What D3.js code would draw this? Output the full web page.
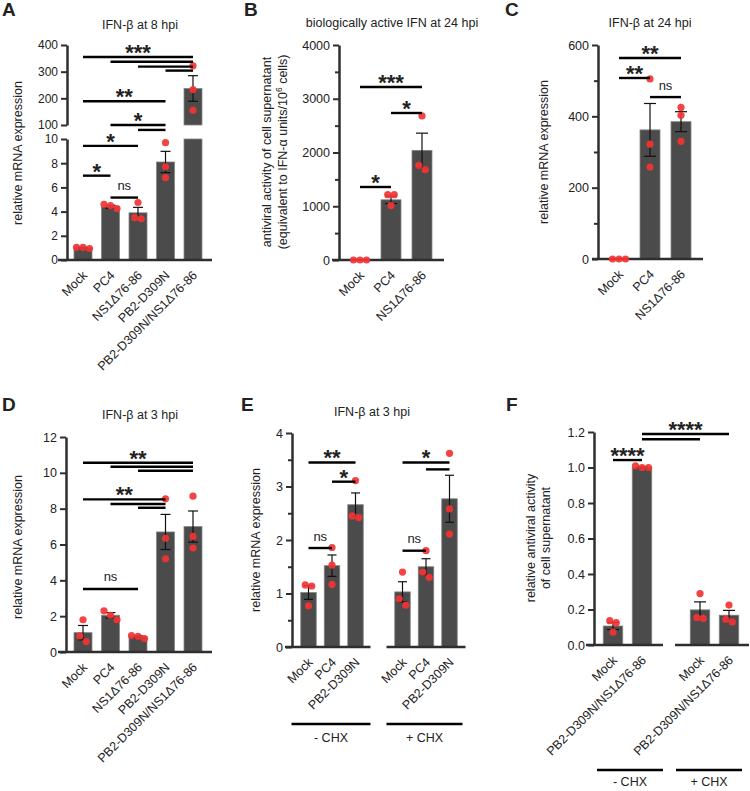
<!DOCTYPE html>
<html>
<head>
<meta charset="utf-8">
<script src="https://cdn.jsdelivr.net/npm/d3@7"></script>
<style>
  body { margin: 0; background: #fff; }
  text { font-family: "Liberation Sans", Arial, Helvetica, sans-serif; fill: #222; }
</style>
</head>
<body>
<svg id="fig" width="750" height="791"></svg>
<script>
// ---------- data ----------
// A: IFN-β at 8 hpi (broken axis)
const catsA = ["Mock", "PC4", "NS1Δ76-86", "PB2-D309N", "PB2-D309N/NS1Δ76-86"];
const meanA = [1.0, 4.4, 3.9, 8.1, 237];
const semA  = [0.05, 0.12, 0.45, 0.88, 48];
const dotsA = [[1.05, 1.05, 0.95], [4.6, 4.5, 4.25], [4.75, 3.4, 3.5], [9.7, 7.7, 6.8], [322, 233, 155]];
const sigA  = [
  { pairs: [[0, 4], [1, 4], [2, 4], [3, 4]], label: "***" },
  { pairs: [[0, 3]], label: "**" },
  { pairs: [[1, 3], [2, 3]], label: "*" },
  { pairs: [[0, 2]], label: "*" },
  { pairs: [[0, 1]], label: "*" },
  { pairs: [[1, 2]], label: "ns" }
];

// B: biologically active IFN at 24 hpi
const catsB = ["Mock", "PC4", "NS1Δ76-86"];
const meanB = [0, 1120, 2040];
const semB  = [0, 70, 320];
const dotsB = [[0, 0, 0], [1215, 1215, 1010], [2680, 1760, 1680]];
const sigB  = [
  { pairs: [[0, 2]], label: "***" },
  { pairs: [[1, 2]], label: "*" },
  { pairs: [[0, 1]], label: "*" }
];

// C: IFN-β at 24 hpi
const catsC = ["Mock", "PC4", "NS1Δ76-86"];
const meanC = [0, 362, 385];
const semC  = [0, 74, 28];
const dotsC = [[0, 0, 0], [505, 322, 258], [425, 403, 330]];
const sigC  = [
  { pairs: [[0, 2]], label: "**" },
  { pairs: [[0, 1]], label: "**" },
  { pairs: [[1, 2]], label: "ns" }
];

// D: IFN-β at 3 hpi
const catsD = ["Mock", "PC4", "NS1Δ76-86", "PB2-D309N", "PB2-D309N/NS1Δ76-86"];
const meanD = [1.08, 2.05, 0.85, 6.7, 7.0];
const semD  = [0.4, 0.15, 0.05, 0.98, 0.87];
const dotsD = [[1.8, 0.9, 0.58], [2.3, 2.05, 1.8], [0.92, 0.88, 0.75], [8.55, 6.35, 5.2], [8.7, 6.45, 5.8]];
const sigD  = [
  { pairs: [[0, 4], [1, 4], [2, 4]], label: "**" },
  { pairs: [[0, 3], [1, 3], [2, 3]], label: "**" },
  { pairs: [[0, 2]], label: "ns" }
];

// E: IFN-β at 3 hpi, with / without CHX
const catsE = ["Mock", "PC4", "PB2-D309N"];
const condE = ["- CHX", "+ CHX"];
const meanE = [1.02, 1.52, 2.66, 1.03, 1.50, 2.77];
const semE  = [0.13, 0.20, 0.22, 0.19, 0.15, 0.44];
const dotsE = [[1.16, 1.14, 0.77], [1.86, 1.53, 1.17], [3.11, 2.45, 2.42],
               [1.4, 0.9, 0.78], [1.8, 1.4, 1.3], [3.62, 2.58, 2.11]];
const sigE  = [
  { pairs: [[0, 2]], label: "**" },
  { pairs: [[1, 2]], label: "*" },
  { pairs: [[0, 1]], label: "ns" },
  { pairs: [[3, 5], [4, 5]], label: "*" },
  { pairs: [[3, 4]], label: "ns" }
];

// F: relative antiviral activity, with / without CHX
const catsF = ["Mock", "PB2-D309N/NS1Δ76-86"];
const condF = ["- CHX", "+ CHX"];
const meanF = [0.107, 1.0, 0.198, 0.168];
const semF  = [0.02, 0.003, 0.045, 0.027];
const dotsF = [[0.137, 0.126, 0.072], [1.01, 1.0, 1.0], [0.29, 0.155, 0.15], [0.225, 0.145, 0.13]];
const sigF  = [
  { pairs: [[1, 3], [1, 2]], label: "****" },
  { pairs: [[0, 1]], label: "****" }
];

// ---------- drawing ----------
const svg = d3.select("#fig");
const INK = "#2e2e2e", BAR = "#4b4b4b", DOT = "#f23333";

// spread overlapping dots sideways, roughly like a scatter-dot column
function jitter(py, d = 6.5, gap = 7.5) {
  const order = py.map((p, i) => ({ i, p })).sort((a, b) => a.p - b.p);
  const off = py.map(() => 0);
  let cl = [order[0]];
  const flush = () => cl.forEach((o, k) => off[o.i] = (k - (cl.length - 1) / 2) * d);
  for (let k = 1; k < order.length; k++) {
    if (order[k].p - order[k - 1].p < gap) cl.push(order[k]);
    else { flush(); cl = [order[k]]; }
  }
  flush();
  return off;
}

function panel(cfg) {
  const g = svg.append("g");
  const x = cfg.x;
  const segs = cfg.segs;
  const segOf = v => segs.find(s => v <= s.y.domain()[1]) || segs[segs.length - 1];
  const py = v => segOf(v).y(v);
  const base = segs[0].y(0);
  const bw = cfg.barWidth;

  // panel letter + title
  g.append("text").attr("x", cfg.letter[0]).attr("y", cfg.letter[1])
    .attr("font-size", 19).attr("font-weight", "bold").attr("fill", "#000").text(cfg.name);
  if (cfg.title) {
    g.append("text").attr("x", cfg.title[0]).attr("y", cfg.title[1])
      .attr("text-anchor", "middle").attr("font-size", 12.5).text(cfg.title[2]);
  }

  // y-axis title (one or two lines)
  cfg.ylab.forEach(l => {
    const t = g.append("text")
      .attr("transform", `translate(${l.x},${l.y}) rotate(-90)`)
      .attr("text-anchor", "middle").attr("font-size", 12.5);
    l.parts.forEach(p => {
      const ts = t.append("tspan").text(p.t);
      if (p.sup) ts.attr("baseline-shift", "super").attr("font-size", 8.5);
    });
  });

  // bars (clipped to each axis segment)
  cfg.items.forEach(it => {
    segs.forEach(s => {
      const [lo, hi] = s.y.domain();
      if (it.mean <= lo) return;
      const top = Math.min(it.mean, hi);
      g.append("rect")
        .attr("x", x(it.key) - bw / 2).attr("width", bw)
        .attr("y", s.y(top)).attr("height", s.y(lo) - s.y(top))
        .attr("fill", BAR).attr("stroke", "#858585").attr("stroke-width", 0.8);
    });
  });

  // axes
  segs.forEach(s => {
    const ax = g.append("g").attr("transform", `translate(${cfg.axisX},0)`)
      .call(d3.axisLeft(s.y).tickValues(s.ticks).tickSize(6).tickSizeOuter(0)
        .tickPadding(3).tickFormat(s.fmt || d3.format("d")));
    ax.select(".domain").attr("stroke", INK).attr("stroke-width", 2.5);
    ax.selectAll(".tick line").attr("stroke", INK).attr("stroke-width", 2);
    ax.selectAll(".tick text").attr("font-size", s.fontSize || 12.5).attr("fill", "#222")
      .attr("font-family", "Liberation Sans, Arial, sans-serif");
    if (s.minor) {
      const mx = g.append("g").attr("transform", `translate(${cfg.axisX},0)`)
        .call(d3.axisLeft(s.y).tickValues(s.minor).tickSize(4).tickFormat(""));
      mx.select(".domain").remove();
      mx.selectAll(".tick line").attr("stroke", INK).attr("stroke-width", 2);
    }
  });
  cfg.xAxis.forEach(([x0, x1]) => {
    g.append("line").attr("x1", x0).attr("x2", x1).attr("y1", base).attr("y2", base)
      .attr("stroke", INK).attr("stroke-width", 2.5);
  });

  // error bars
  cfg.items.forEach(it => {
    if (!it.sem) return;
    const cx = x(it.key), cw = cfg.cap / 2;
    const yHi = py(it.mean + it.sem), yLo = py(it.mean - it.sem);
    g.append("line").attr("x1", cx).attr("x2", cx).attr("y1", yHi).attr("y2", yLo)
      .attr("stroke", "#111").attr("stroke-width", 1.2);
    [yHi, yLo].forEach(yy => g.append("line")
      .attr("x1", cx - cw).attr("x2", cx + cw).attr("y1", yy).attr("y2", yy)
      .attr("stroke", "#111").attr("stroke-width", 1.2));
  });

  // dots
  cfg.items.forEach(it => {
    const ys = it.dots.map(py);
    const off = jitter(ys);
    g.selectAll(null).data(it.dots).enter().append("circle")
      .attr("cx", (d, i) => x(it.key) + off[i]).attr("cy", (d, i) => ys[i])
      .attr("r", 3.6).attr("fill", DOT).attr("fill-opacity", 0.92);
  });

  // x tick labels
  cfg.items.forEach(it => {
    g.append("text")
      .attr("transform", `translate(${x(it.key) + 5},${base + 16}) rotate(-45)`)
      .attr("text-anchor", "end").attr("font-size", 12.5).text(it.label);
  });

  // significance brackets
  cfg.sig.forEach((s, k) => {
    const lv = cfg.sigLevels[k];
    const yy = lv.v.map(v => segs[lv.seg || 0].y(v));
    s.pairs.forEach(([a, b], j) => {
      g.append("line")
        .attr("x1", x(cfg.items[a].key)).attr("x2", x(cfg.items[b].key))
        .attr("y1", yy[j]).attr("y2", yy[j])
        .attr("stroke", "#000").attr("stroke-width", 2.4);
    });
    const [a0, b0] = s.pairs[0];
    const mid = (x(cfg.items[a0].key) + x(cfg.items[b0].key)) / 2;
    const star = s.label !== "ns";
    g.append("text").attr("x", mid)
      .attr("y", star ? yy[0] + 3 : yy[0] - 7.5)
      .attr("text-anchor", "middle")
      .attr("font-size", star ? 22 : 13)
      .attr("font-weight", star ? "bold" : "normal")
      .attr("fill", "#000")
      .text(s.label);
  });

  // treatment groups underneath (E, F)
  (cfg.groups || []).forEach(gr => {
    g.append("line").attr("x1", gr.x0).attr("x2", gr.x1).attr("y1", gr.y).attr("y2", gr.y)
      .attr("stroke", "#000").attr("stroke-width", 2.4);
    g.append("text").attr("x", (gr.x0 + gr.x1) / 2).attr("y", gr.y + gr.dy)
      .attr("text-anchor", "middle").attr("font-size", 12.5).text(gr.name);
  });
}

const items = (cats, mean, sem, dots) =>
  cats.map((c, i) => ({ key: c, label: c, mean: mean[i], sem: sem[i], dots: dots[i] }));

const itemsGrouped = (conds, cats, mean, sem, dots) => {
  const out = [];
  conds.forEach((cd, j) => cats.forEach((c, i) => {
    const k = j * cats.length + i;
    out.push({ key: cd + "|" + c, label: c, mean: mean[k], sem: sem[k], dots: dots[k] });
  }));
  return out;
};

// ---- A
const itA = items(catsA, meanA, semA, dotsA);
panel({
  name: "A", letter: [2, 16], title: [140, 29, "IFN-β at 8 hpi"],
  ylab: [{ x: 22, y: 153, parts: [{ t: "relative mRNA expression" }] }],
  items: itA,
  x: d3.scalePoint().domain(itA.map(d => d.key)).range([83, 193]),
  segs: [
    { y: d3.scaleLinear().domain([0, 10]).range([260, 139]), ticks: [0, 2, 4, 6, 8, 10], fontSize: 12 },
    { y: d3.scaleLinear().domain([100, 400]).range([125, 45]), ticks: [100, 200, 300, 400], fontSize: 12 }
  ],
  axisX: 67, xAxis: [[58, 212]], barWidth: 18, cap: 10,
  sig: sigA,
  sigLevels: [{ seg: 1, v: [355, 337, 319, 304] }, { seg: 1, v: [189] }, { seg: 1, v: [100, 81.5] },
              { v: [9.43] }, { v: [6.97] }, { v: [5.16] }]
});

// ---- B
const itB = items(catsB, meanB, semB, dotsB);
panel({
  name: "B", letter: [244, 16], title: [392, 27, "biologically active IFN at 24 hpi"],
  ylab: [
    { x: 271, y: 152, parts: [{ t: "antiviral activity of cell supernatant" }] },
    { x: 287, y: 152, parts: [{ t: "(equivalent to IFN-α units/10" }, { t: "6", sup: true }, { t: " cells)" }] }
  ],
  items: itB,
  x: d3.scalePoint().domain(itB.map(d => d.key)).range([360, 422]),
  segs: [{ y: d3.scaleLinear().domain([0, 4000]).range([260, 45]),
           ticks: [0, 1000, 2000, 3000, 4000], minor: [500, 1500, 2500, 3500] }],
  axisX: 339, xAxis: [[332, 444]], barWidth: 20, cap: 12,
  sig: sigB, sigLevels: [{ v: [3219] }, { v: [2735] }, { v: [1358] }]
});

// ---- C
const itC = items(catsC, meanC, semC, dotsC);
panel({
  name: "C", letter: [505, 16], title: [650, 27, "IFN-β at 24 hpi"],
  ylab: [{ x: 548, y: 152, parts: [{ t: "relative mRNA expression" }] }],
  items: itC,
  x: d3.scalePoint().domain(itC.map(d => d.key)).range([619, 681]),
  segs: [{ y: d3.scaleLinear().domain([0, 600]).range([259, 45]),
           ticks: [0, 200, 400, 600], minor: [100, 300, 500] }],
  axisX: 598, xAxis: [[592, 703]], barWidth: 20, cap: 12,
  sig: sigC, sigLevels: [{ v: [563.5] }, { v: [507.5] }, { v: [454] }]
});

// ---- D
const itD = items(catsD, meanD, semD, dotsD);
panel({
  name: "D", letter: [2, 411], title: [140, 419, "IFN-β at 3 hpi"],
  ylab: [{ x: 22, y: 547, parts: [{ t: "relative mRNA expression" }] }],
  items: itD,
  x: d3.scalePoint().domain(itD.map(d => d.key)).range([83, 193]),
  segs: [{ y: d3.scaleLinear().domain([0, 12]).range([652, 437]), ticks: [0, 2, 4, 6, 8, 10, 12] }],
  axisX: 66, xAxis: [[58, 212]], barWidth: 18, cap: 10,
  sig: sigD, sigLevels: [{ v: [10.56, 10.34, 10.12] }, { v: [8.52, 8.26, 8.05] }, { v: [3.52] }]
});

// ---- E
const itE = itemsGrouped(condE, catsE, meanE, semE, dotsE);
const domE = [...itE.slice(0, 3).map(d => d.key), "gap", ...itE.slice(3).map(d => d.key)];
const xE = d3.scalePoint().domain(domE).range([308.5, 449.5]);
panel({
  name: "E", letter: [241, 411], title: [372, 416, "IFN-β at 3 hpi"],
  ylab: [{ x: 260, y: 540, parts: [{ t: "relative mRNA expression" }] }],
  items: itE, x: xE,
  segs: [{ y: d3.scaleLinear().domain([0, 4]).range([647, 433]),
           ticks: [0, 1, 2, 3, 4], minor: [0.5, 1.5, 2.5, 3.5] }],
  axisX: 292, xAxis: [[285, xE(itE[2].key) + 15], [xE(itE[3].key) - 16, xE(itE[5].key) + 16]],
  barWidth: 15.5, cap: 9,
  sig: sigE, sigLevels: [{ v: [3.45] }, { v: [3.09] }, { v: [1.85] }, { v: [3.45, 3.32] }, { v: [1.8] }],
  groups: [
    { name: condE[0], x0: xE(itE[0].key) - 17, x1: xE(itE[2].key) + 15, y: 724, dy: 18 },
    { name: condE[1], x0: xE(itE[3].key) - 16, x1: xE(itE[5].key) + 13, y: 724, dy: 18 }
  ]
});

// ---- F
const itF = itemsGrouped(condF, catsF, meanF, semF, dotsF);
const domF = [itF[0].key, itF[1].key, "gap", itF[2].key, itF[3].key];
const xF = d3.scalePoint().domain(domF).range([613, 729]);
panel({
  name: "F", letter: [506, 411], title: null,
  ylab: [
    { x: 535, y: 538, parts: [{ t: "relative antiviral activity" }] },
    { x: 550, y: 538, parts: [{ t: "of cell supernatant" }] }
  ],
  items: itF, x: xF,
  segs: [{ y: d3.scaleLinear().domain([0, 1.2]).range([645, 432]),
           ticks: [0, 0.2, 0.4, 0.6, 0.8, 1.0, 1.2], fmt: d3.format(".1f") }],
  axisX: 594, xAxis: [[586, xF(itF[1].key) + 21], [xF(itF[2].key) - 25, 749]],
  barWidth: 19.5, cap: 12,
  sig: sigF, sigLevels: [{ v: [1.189, 1.159] }, { v: [1.042] }],
  groups: [
    { name: condF[0], x0: 597, x1: xF(itF[1].key) + 21, y: 770, dy: 16 },
    { name: condF[1], x0: xF(itF[2].key) - 24, x1: 742, y: 770, dy: 16 }
  ]
});
</script>
</body>
</html>
